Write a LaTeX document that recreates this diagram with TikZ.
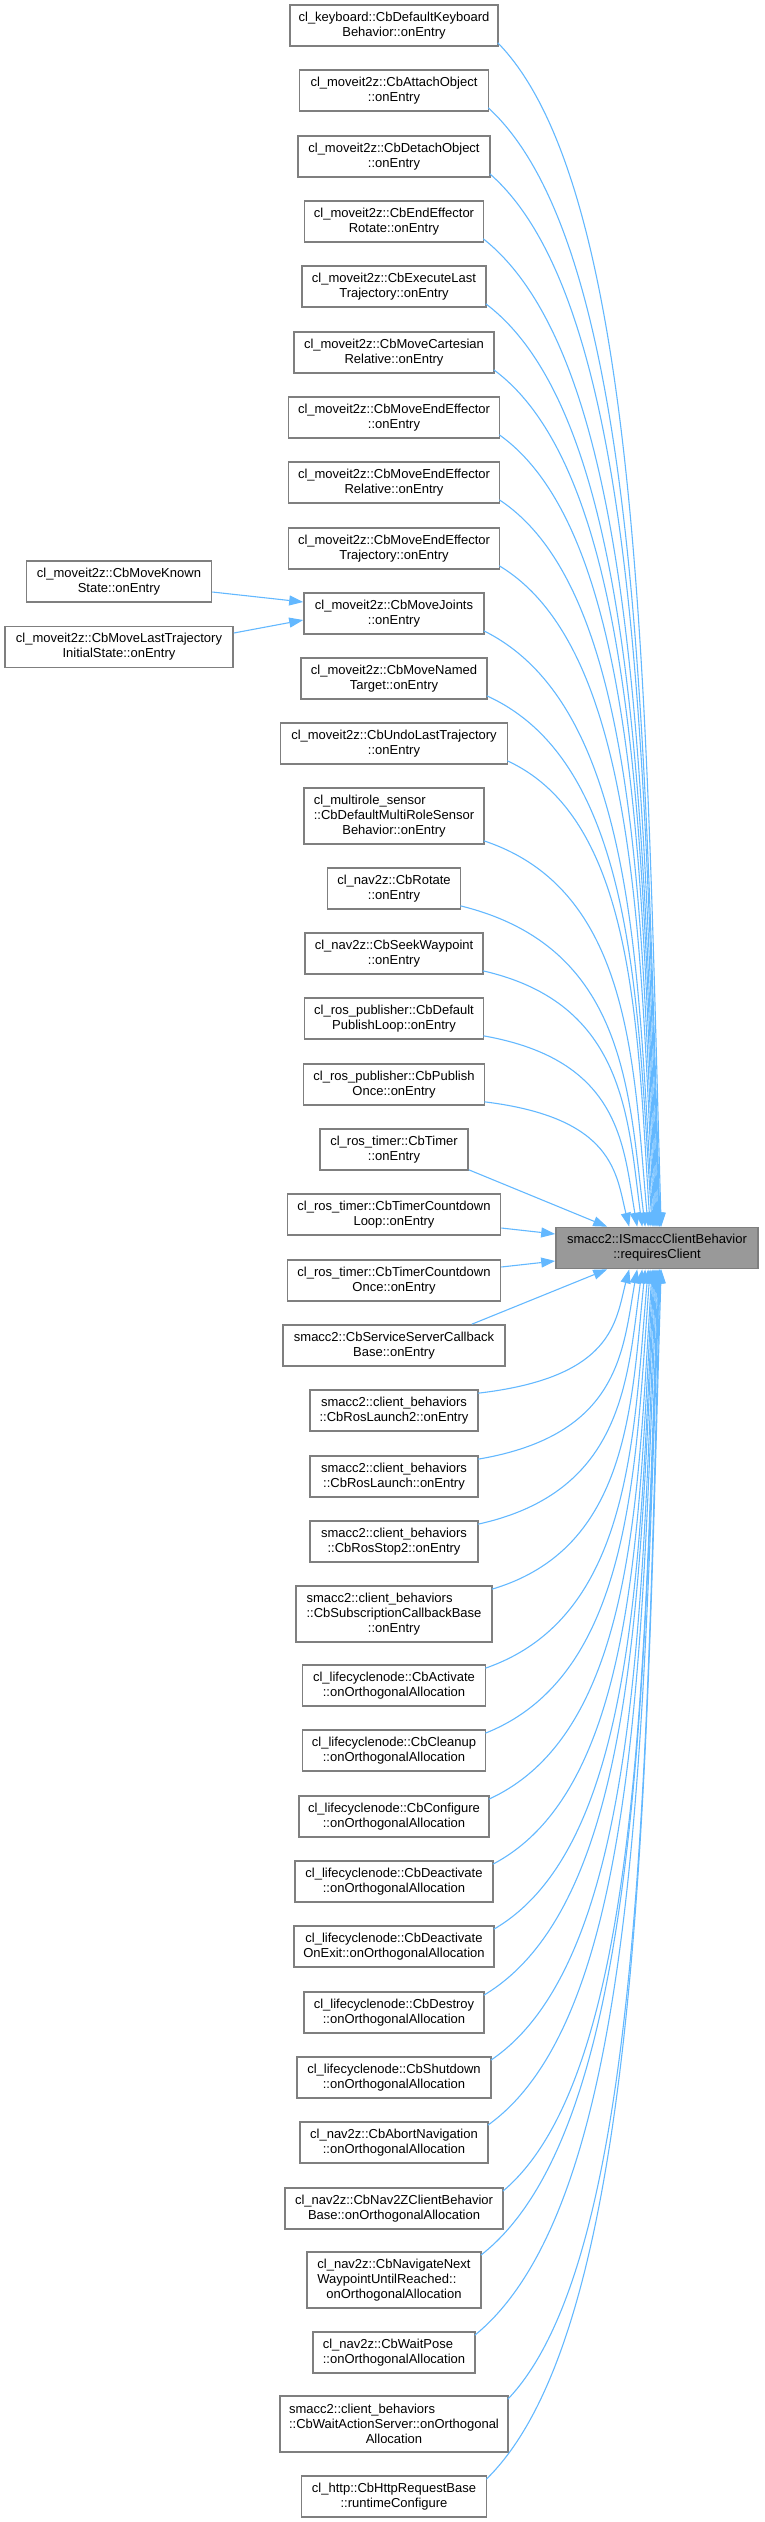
\documentclass[tikz,border=0pt]{standalone}
\usepackage{fontspec}
\setmainfont{Liberation Sans}
\usetikzlibrary{arrows.meta,calc}
\definecolor{edgeblue}{HTML}{63B8FF}
\definecolor{boxborder}{HTML}{7F7F7F}
\definecolor{targetfill}{HTML}{999999}
\newcommand\nodefont{\fontsize{13}{15}\selectfont}
\newcommand\lalign[2]{\rlap{#1}\phantom{#2}}
\newcommand\curveedge[2]{\draw[edge] let \p1=#1, \p2=#2 in (\p1) .. controls ({\x1+0.9*(\x2-\x1)},{\y1+0.127*(\y2-\y1)}) and ({\x2-0.09*(\x2-\x1)},{\y2-0.42*(\y2-\y1)}) .. (\p2);}
\begin{document}
\begin{tikzpicture}[x=1pt,y=-1pt,
 box/.style={draw=boxborder, line width=1.6pt, fill=white, align=center, font=\nodefont, inner xsep=0pt, inner ysep=0pt, minimum height=41pt},
 box3/.style={box, minimum height=56pt},
 target/.style={box, fill=targetfill},
 edge/.style={draw=edgeblue, line width=1.1pt, -{Triangle[length=14pt,width=10pt]}}]
\useasboundingbox (0,0) rectangle (764,2522);
% middle column
\node[box, minimum width=208pt] (n1) at (394,25.5) {cl\_keyboard::CbDefaultKeyboard\\Behavior::onEntry};
\node[box, minimum width=189pt] (n2) at (394,90.5) {cl\_moveit2z::CbAttachObject\\::onEntry};
\node[box, minimum width=192pt] (n3) at (394,156.5) {cl\_moveit2z::CbDetachObject\\::onEntry};
\node[box, minimum width=179pt] (n4) at (394,221.5) {cl\_moveit2z::CbEndEffector\\Rotate::onEntry};
\node[box, minimum width=184pt] (n5) at (394,286.5) {cl\_moveit2z::CbExecuteLast\\Trajectory::onEntry};
\node[box, minimum width=200pt] (n6) at (394,352.5) {cl\_moveit2z::CbMoveCartesian\\Relative::onEntry};
\node[box, minimum width=211pt] (n7) at (394,417.5) {cl\_moveit2z::CbMoveEndEffector\\::onEntry};
\node[box, minimum width=211pt] (n8) at (394,482.5) {cl\_moveit2z::CbMoveEndEffector\\Relative::onEntry};
\node[box, minimum width=211pt] (n9) at (394,548.5) {cl\_moveit2z::CbMoveEndEffector\\Trajectory::onEntry};
\node[box, minimum width=180pt] (n10) at (394,613.5) {cl\_moveit2z::CbMoveJoints\\::onEntry};
\node[box, minimum width=186pt] (n11) at (394,678.5) {cl\_moveit2z::CbMoveNamed\\Target::onEntry};
\node[box, minimum width=227pt] (n12) at (394,743.5) {cl\_moveit2z::CbUndoLastTrajectory\\::onEntry};
\node[box3, minimum width=180pt] (n13) at (394,816) {\lalign{cl\_multirole\_sensor}{::CbDefaultMultiRoleSensor}\\::CbDefaultMultiRoleSensor\\Behavior::onEntry};
\node[box, minimum width=133pt] (n14) at (394,888.5) {cl\_nav2z::CbRotate\\::onEntry};
\node[box, minimum width=178pt] (n15) at (394,953.5) {cl\_nav2z::CbSeekWaypoint\\::onEntry};
\node[box, minimum width=179pt] (n16) at (394,1018.5) {cl\_ros\_publisher::CbDefault\\PublishLoop::onEntry};
\node[box, minimum width=181pt] (n17) at (394,1084.5) {cl\_ros\_publisher::CbPublish\\Once::onEntry};
\node[box, minimum width=148pt] (n18) at (394,1149.5) {cl\_ros\_timer::CbTimer\\::onEntry};
\node[box, minimum width=213pt] (n19) at (394,1214.5) {cl\_ros\_timer::CbTimerCountdown\\Loop::onEntry};
\node[box, minimum width=213pt] (n20) at (394,1280.5) {cl\_ros\_timer::CbTimerCountdown\\Once::onEntry};
\node[box, minimum width=222pt] (n21) at (394,1345.5) {smacc2::CbServiceServerCallback\\Base::onEntry};
\node[box, minimum width=168pt] (n22) at (394,1410.5) {smacc2::client\_behaviors\\::CbRosLaunch2::onEntry};
\node[box, minimum width=168pt] (n23) at (394,1476.5) {smacc2::client\_behaviors\\::CbRosLaunch::onEntry};
\node[box, minimum width=168pt] (n24) at (394,1541.5) {smacc2::client\_behaviors\\::CbRosStop2::onEntry};
\node[box3, minimum width=196pt] (n25) at (394,1614) {\lalign{smacc2::client\_behaviors}{::CbSubscriptionCallbackBase}\\::CbSubscriptionCallbackBase\\::onEntry};
\node[box, minimum width=183pt] (n26) at (394,1685.5) {cl\_lifecyclenode::CbActivate\\::onOrthogonalAllocation};
\node[box, minimum width=183pt] (n27) at (394,1750.5) {cl\_lifecyclenode::CbCleanup\\::onOrthogonalAllocation};
\node[box, minimum width=190pt] (n28) at (394,1816.5) {cl\_lifecyclenode::CbConfigure\\::onOrthogonalAllocation};
\node[box, minimum width=198pt] (n29) at (394,1881.5) {cl\_lifecyclenode::CbDeactivate\\::onOrthogonalAllocation};
\node[box, minimum width=200pt] (n30) at (394,1946.5) {cl\_lifecyclenode::CbDeactivate\\OnExit::onOrthogonalAllocation};
\node[box, minimum width=180pt] (n31) at (394,2012.5) {cl\_lifecyclenode::CbDestroy\\::onOrthogonalAllocation};
\node[box, minimum width=194pt] (n32) at (394,2077.5) {cl\_lifecyclenode::CbShutdown\\::onOrthogonalAllocation};
\node[box, minimum width=188pt] (n33) at (394,2142.5) {cl\_nav2z::CbAbortNavigation\\::onOrthogonalAllocation};
\node[box, minimum width=218pt] (n34) at (394,2208.5) {cl\_nav2z::CbNav2ZClientBehavior\\Base::onOrthogonalAllocation};
\node[box3, minimum width=174pt] (n35) at (394,2280) {cl\_nav2z::CbNavigateNext\\\lalign{WaypointUntilReached::}{cl\_nav2z::CbNavigateNext}\\onOrthogonalAllocation};
\node[box, minimum width=162pt] (n36) at (394,2352.5) {\lalign{cl\_nav2z::CbWaitPose}{::onOrthogonalAllocation}\\::onOrthogonalAllocation};
\node[box3, minimum width=228pt] (n37) at (394,2424) {\lalign{smacc2::client\_behaviors}{::CbWaitActionServer::onOrthogonal}\\::CbWaitActionServer::onOrthogonal\\Allocation};
\node[box, minimum width=185pt] (n38) at (394,2496.5) {cl\_http::CbHttpRequestBase\\::runtimeConfigure};
% left column
\node[box, minimum width=185pt] (l1) at (119,581.5) {cl\_moveit2z::CbMoveKnown\\State::onEntry};
\node[box, minimum width=228pt] (l2) at (119,647) {cl\_moveit2z::CbMoveLastTrajectory\\InitialState::onEntry};
% target
\node[target, minimum width=202pt] (T) at (657,1248) {smacc2::ISmaccClientBehavior\\::requiresClient};
% edges into CbMoveJoints
\draw[edge] ($(l1.east)+(0,10.5)$) -- ($(n10.west)+(0,-11.5)$);
\draw[edge] ($(l2.east)+(0,-14)$) -- ($(n10.west)+(0,6.5)$);
% upper edges
\foreach \k/\o in {1/106,2/105,3/104.5,4/104,5/103,6/102,7/101,8/100,9/99,10/98,11/97,12/95,13/93,14/90,15/87,16/82,17/74}{
  \curveedge{($(n\k.south east)+(-1,-4)$)}{($(T.north west)+(\o,0)$)}
}
\draw[edge] ($(n18.south east)+(0,-1)$) -- ($(T.north west)+(52,0)$);
\draw[edge] ($(n19.east)+(0,13.5)$) -- ($(T.west)+(0,-14)$);
\draw[edge] ($(n20.east)+(0,-13.5)$) -- ($(T.west)+(0,13)$);
\draw[edge] ($(n21.north east)+(-34,0)$) -- ($(T.south west)+(52,0)$);
% lower edges
\foreach \k/\o in {22/74,23/82,24/87,25/90,26/93,27/95,28/97,29/98,30/99,31/100,32/101,33/102,34/103,35/104,36/104.5,37/105,38/106}{
  \curveedge{($(n\k.north east)+(-1,4)$)}{($(T.south west)+(\o,0)$)}
}
\end{tikzpicture}
\end{document}
